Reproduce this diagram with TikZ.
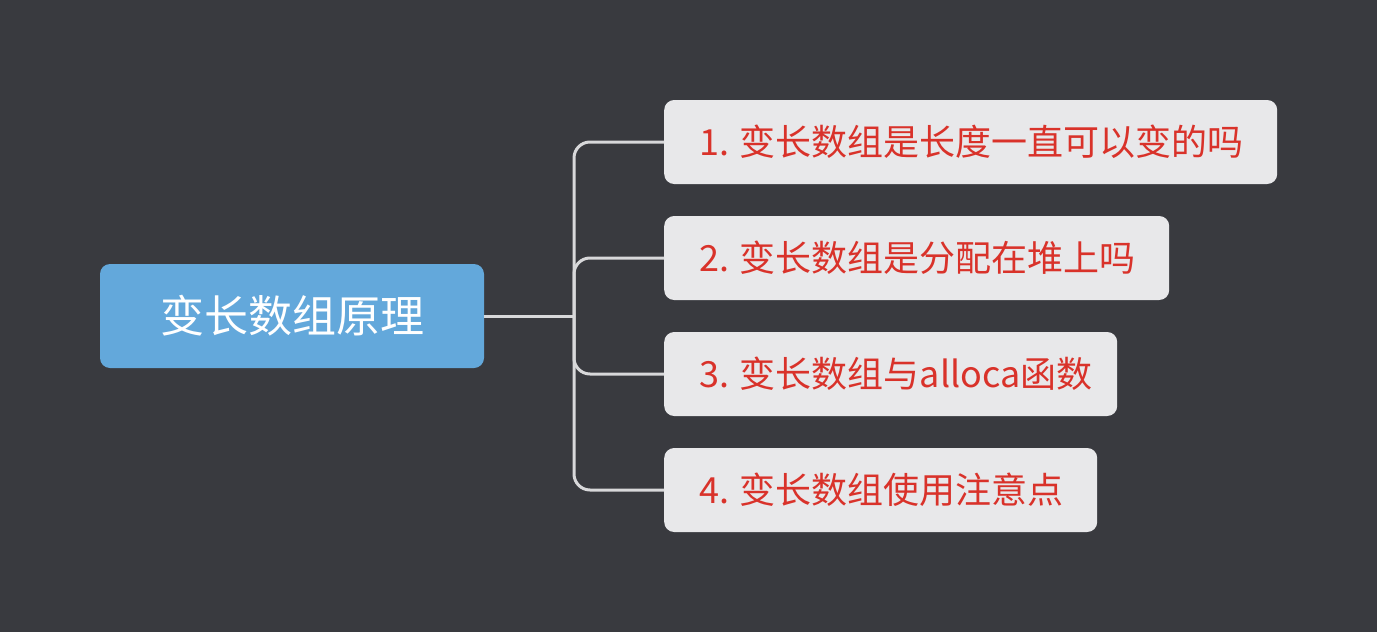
\documentclass[tikz,border=0pt]{standalone}
\usepackage{fontspec}
\setmainfont{Noto Sans CJK SC}
\newfontfamily\cjk{Noto Sans CJK SC}
\definecolor{bg}{HTML}{393A3F}
\definecolor{rootfill}{HTML}{63A8DB}
\definecolor{boxfill}{HTML}{E8E8EA}
\definecolor{redtext}{HTML}{D9322A}
\definecolor{linecol}{HTML}{D8D8DA}
\begin{document}
\begin{tikzpicture}[x=1pt,y=-1pt,
  rootbox/.style={fill=rootfill, rounded corners=10pt, minimum height=104pt, minimum width=384pt, text=white, font=\cjk\fontsize{44}{50}\selectfont, inner sep=0pt},
  subbox/.style={fill=boxfill, rounded corners=10pt, minimum height=84pt, anchor=west, inner sep=0pt},
  subtext/.style={anchor=west, text=redtext, font=\cjk\fontsize{36}{42}\selectfont, inner sep=0pt},
  conn/.style={draw=linecol, line width=3pt, rounded corners=16pt}]
\fill[bg] (0,0) rectangle (1377,632);
\useasboundingbox (0,0) rectangle (1377,632);
\node[rootbox] (root) at (292,316) {变长数组原理};
\node[subbox, minimum width=613pt] (b1) at (664,142) {};
\node[subbox, minimum width=505pt] (b2) at (664,258) {};
\node[subbox, minimum width=453pt] (b3) at (664,374) {};
\node[subbox, minimum width=433pt] (b4) at (664,490) {};
\node[subtext] (t1) at (699,142) {1. 变长数组是长度一直可以变的吗};
\node[subtext] (t2) at (699,258) {2. 变长数组是分配在堆上吗};
\node[subtext] (t3) at (699,374) {3. 变长数组与alloca函数};
\node[subtext] (t4) at (699,490) {4. 变长数组使用注意点};
\coordinate (j) at (574,316);
\draw[draw=linecol, line width=3pt] (root.east) -- (j);
\draw[conn] (j) |- (b1.west);
\draw[conn] (j) |- (b2.west);
\draw[conn] (j) |- (b3.west);
\draw[conn] (j) |- (b4.west);
\end{tikzpicture}
\end{document}
